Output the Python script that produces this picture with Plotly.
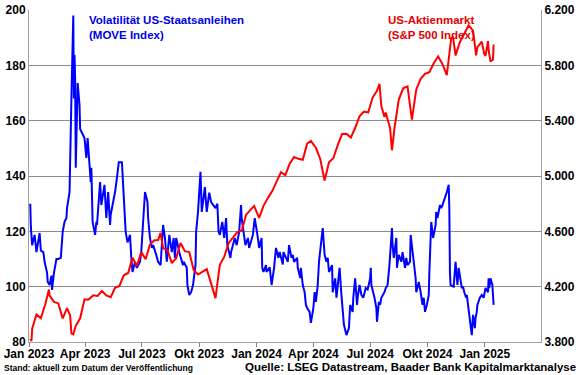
import plotly.graph_objects as go

# ---------------- data ----------------
move_dates = [
    "2023-01-03","2023-01-04","2023-01-06","2023-01-10","2023-01-13","2023-01-18","2023-01-20","2023-01-24",
    "2023-01-26","2023-01-30","2023-01-31","2023-02-03","2023-02-06","2023-02-07","2023-02-10","2023-02-14",
    "2023-02-17","2023-02-21","2023-02-24","2023-02-27","2023-03-02","2023-03-03","2023-03-07","2023-03-09",
    "2023-03-10","2023-03-13","2023-03-14","2023-03-15","2023-03-16","2023-03-17","2023-03-20","2023-03-23",
    "2023-03-24","2023-03-31","2023-04-03","2023-04-05","2023-04-10","2023-04-11","2023-04-13","2023-04-17",
    "2023-04-19","2023-04-20","2023-04-25","2023-04-27","2023-05-02","2023-05-05","2023-05-08","2023-05-11",
    "2023-05-12","2023-05-15","2023-05-19","2023-05-22","2023-05-25","2023-05-30","2023-06-02","2023-06-05",
    "2023-06-08","2023-06-12","2023-06-14","2023-06-16","2023-06-20","2023-06-23","2023-06-28","2023-06-30",
    "2023-07-06","2023-07-10","2023-07-11","2023-07-14","2023-07-17","2023-07-19","2023-07-24","2023-07-27",
    "2023-07-31","2023-08-02","2023-08-04","2023-08-07","2023-08-10","2023-08-14","2023-08-18","2023-08-21",
    "2023-08-23","2023-08-25","2023-08-31","2023-09-05","2023-09-06","2023-09-11","2023-09-12","2023-09-15",
    "2023-09-18","2023-09-21","2023-09-25","2023-09-26","2023-09-29","2023-10-03","2023-10-05","2023-10-10",
    "2023-10-13","2023-10-17","2023-10-20","2023-10-27","2023-10-30","2023-11-01","2023-11-03","2023-11-07",
    "2023-11-10","2023-11-13","2023-11-15","2023-11-20","2023-11-21","2023-11-27","2023-11-30","2023-12-04",
    "2023-12-07","2023-12-08","2023-12-12","2023-12-14","2023-12-18","2023-12-20","2023-12-26","2023-12-29",
    "2024-01-03","2024-01-05","2024-01-09","2024-01-10","2024-01-12","2024-01-16","2024-01-17","2024-01-22",
    "2024-01-25","2024-01-29","2024-02-01","2024-02-05","2024-02-07","2024-02-12","2024-02-13","2024-02-15",
    "2024-02-20","2024-02-22","2024-02-26","2024-02-28","2024-03-01","2024-03-06","2024-03-07","2024-03-11",
    "2024-03-12","2024-03-15","2024-03-18","2024-03-20","2024-03-22","2024-03-26","2024-03-28","2024-04-01",
    "2024-04-03","2024-04-05","2024-04-08","2024-04-10","2024-04-15","2024-04-16","2024-04-19","2024-04-22",
    "2024-04-24","2024-04-26","2024-05-01","2024-05-02","2024-05-06","2024-05-08","2024-05-09","2024-05-13",
    "2024-05-16","2024-05-17","2024-05-20","2024-05-24","2024-05-28","2024-05-30","2024-06-03","2024-06-04",
    "2024-06-07","2024-06-10","2024-06-11","2024-06-14","2024-06-17","2024-06-20","2024-06-24","2024-06-27",
    "2024-07-01","2024-07-02","2024-07-03","2024-07-08","2024-07-11","2024-07-12","2024-07-15","2024-07-17",
    "2024-07-19","2024-07-24","2024-07-26","2024-07-29","2024-08-01","2024-08-05","2024-08-06","2024-08-08",
    "2024-08-12","2024-08-13","2024-08-16","2024-08-20","2024-08-22","2024-08-26","2024-08-28","2024-08-30",
    "2024-09-03","2024-09-04","2024-09-09","2024-09-10","2024-09-12","2024-09-13","2024-09-17","2024-09-20",
    "2024-09-23","2024-09-25","2024-09-27","2024-09-30","2024-10-03","2024-10-04","2024-10-07","2024-10-10",
    "2024-10-14","2024-10-15","2024-10-17","2024-10-21","2024-10-23","2024-10-25","2024-10-29","2024-11-01",
    "2024-11-04","2024-11-05","2024-11-06","2024-11-07","2024-11-12","2024-11-15","2024-11-18","2024-11-20",
    "2024-11-25","2024-11-27","2024-11-29","2024-12-02","2024-12-03","2024-12-05","2024-12-09","2024-12-11",
    "2024-12-13","2024-12-16","2024-12-17","2024-12-19","2024-12-20","2024-12-24","2024-12-27","2024-12-30",
    "2025-01-02","2025-01-06","2025-01-07","2025-01-08","2025-01-10","2025-01-13","2025-01-15",
]
move_values = [
    130.0,121.6,115.0,118.7,112.5,119.4,113.0,112.5,
    109.0,105.0,101.7,100.6,104.0,98.8,105.0,110.0,
    110.0,110.4,119.8,123.4,124.8,128.4,134.2,151.0,
    168.0,198.0,168.0,183.7,175.0,143.0,173.6,165.7,
    157.0,153.7,146.5,153.7,137.8,143.0,123.4,118.7,
    123.4,122.3,137.8,129.5,136.8,124.8,134.2,122.3,
    126.0,129.5,134.2,139.3,145.0,145.0,129.5,119.8,
    116.0,118.7,110.4,105.3,109.0,106.8,109.0,112.5,
    134.2,130.6,124.8,117.6,114.0,115.0,111.5,109.0,
    107.8,117.6,122.3,117.6,109.0,118.7,112.5,117.6,
    110.4,117.6,111.5,107.8,109.0,106.8,100.6,97.0,
    98.0,100.6,107.8,119.8,127.0,141.5,127.0,136.0,
    127.0,134.0,130.6,128.4,130.0,119.8,118.7,123.4,
    117.6,124.8,115.0,110.4,112.5,117.6,115.0,119.8,
    129.5,124.8,118.7,115.0,117.6,114.0,118.7,124.8,
    117.6,114.0,117.6,106.8,105.3,107.8,105.3,107.0,
    100.6,106.8,114.0,110.4,112.5,108.0,112.5,111.5,
    109.0,115.0,110.4,111.5,109.0,110.4,106.8,103.1,
    106.8,100.6,98.0,93.4,92.3,90.9,86.9,92.3,
    98.0,94.5,100.6,109.0,117.6,121.2,111.5,109.0,
    110.4,105.3,107.8,98.0,103.0,96.0,98.0,106.8,
    97.0,93.4,86.2,82.5,85.0,93.4,90.9,96.0,
    103.0,93.4,96.0,100.6,97.0,96.0,99.5,99.0,
    103.0,106.8,100.6,96.0,92.3,87.3,94.5,93.4,
    96.0,98.0,99.5,100.6,107.8,121.2,115.0,110.4,
    117.6,106.8,111.5,109.0,112.5,106.8,110.4,107.8,
    109.0,118.7,107.8,105.3,103.0,98.0,101.7,98.0,
    93.4,96.0,90.9,93.4,97.0,105.3,123.4,117.6,
    122.3,127.0,124.8,129.5,128.4,129.5,132.0,134.2,
    136.8,128.0,105.0,100.6,100.0,109.0,100.6,106.8,
    99.5,100.0,98.0,96.0,97.0,93.4,87.3,82.5,
    89.8,85.0,88.7,90.9,93.4,96.0,97.0,96.0,
    99.5,98.0,103.0,99.5,103.0,100.6,93.4,
]

spx_dates = [
    "2023-01-03","2023-01-05","2023-01-06","2023-01-13","2023-01-20","2023-01-27","2023-02-02","2023-02-03",
    "2023-02-10","2023-02-17","2023-02-24","2023-03-03","2023-03-08","2023-03-10","2023-03-13","2023-03-17",
    "2023-03-24","2023-03-31","2023-04-06","2023-04-14","2023-04-21","2023-04-28","2023-05-05","2023-05-12",
    "2023-05-19","2023-05-26","2023-06-02","2023-06-09","2023-06-16","2023-06-23","2023-06-30","2023-07-07",
    "2023-07-14","2023-07-21","2023-07-27","2023-07-31","2023-08-04","2023-08-11","2023-08-18","2023-08-25",
    "2023-09-01","2023-09-08","2023-09-15","2023-09-22","2023-09-29","2023-10-06","2023-10-13","2023-10-20",
    "2023-10-27","2023-11-03","2023-11-10","2023-11-17","2023-11-24","2023-12-01","2023-12-08","2023-12-15",
    "2023-12-22","2023-12-28","2024-01-05","2024-01-12","2024-01-19","2024-01-26","2024-02-02","2024-02-09",
    "2024-02-16","2024-02-23","2024-03-01","2024-03-08","2024-03-15","2024-03-22","2024-03-28","2024-04-05",
    "2024-04-12","2024-04-19","2024-04-26","2024-05-03","2024-05-10","2024-05-17","2024-05-24","2024-05-31",
    "2024-06-07","2024-06-14","2024-06-21","2024-06-28","2024-07-05","2024-07-12","2024-07-16","2024-07-19",
    "2024-07-24","2024-07-26","2024-08-02","2024-08-05","2024-08-09","2024-08-16","2024-08-23","2024-08-30",
    "2024-09-06","2024-09-13","2024-09-20","2024-09-27","2024-10-04","2024-10-11","2024-10-18","2024-10-25",
    "2024-11-01","2024-11-08","2024-11-11","2024-11-15","2024-11-22","2024-11-29","2024-12-06","2024-12-13",
    "2024-12-18","2024-12-20","2024-12-27","2024-12-31","2025-01-02","2025-01-06","2025-01-07","2025-01-10",
    "2025-01-13","2025-01-14","2025-01-15",
]
spx_values = [
    3824,3808,3895,3999,3972,4071,4179,4136,
    4090,4079,3970,4045,3992,3862,3855,3917,
    3971,4109,4105,4137,4133,4169,4136,4124,
    4192,4205,4282,4299,4410,4348,4450,4399,
    4505,4536,4537,4589,4478,4464,4370,4406,
    4516,4457,4450,4320,4288,4309,4327,4224,
    4117,4358,4415,4514,4559,4595,4604,4719,
    4755,4783,4697,4784,4840,4891,4959,5027,
    5006,5089,5137,5124,5117,5234,5254,5204,
    5123,4967,5100,5128,5223,5303,5305,5278,
    5347,5431,5465,5460,5567,5615,5667,5505,
    5427,5459,5346,5186,5344,5554,5634,5648,
    5408,5626,5703,5738,5751,5815,5865,5808,
    5729,5996,6001,5871,5969,6032,6090,6051,
    5872,5931,5971,5882,5868,5975,5909,5827,
    5836,5842,5950,
]

tick_vals = ["2023-01-01","2023-04-01","2023-07-01","2023-10-01","2024-01-01",
             "2024-04-01","2024-07-01","2024-10-01","2025-01-01"]
tick_text = ["Jan 2023","Apr 2023","Jul 2023","Okt 2023","Jan 2024",
             "Apr 2024","Jul 2024","Okt 2024","Jan 2025"]

FONT = "Liberation Sans, Arial, sans-serif"
BLUE = "#0000ff"
RED = "#ff0000"

fig = go.Figure()
fig.add_trace(go.Scatter(x=spx_dates, y=spx_values, mode="lines", yaxis="y2",
                         line=dict(color=RED, width=2), name="S&P 500"))
fig.add_trace(go.Scatter(x=move_dates, y=move_values, mode="lines",
                         line=dict(color=BLUE, width=2), name="MOVE"))

tickfont = dict(family=FONT, size=12, color="black", weight="bold")

fig.update_layout(
    width=580, height=375,
    margin=dict(l=29, r=39, t=10, b=33, autoexpand=False),
    paper_bgcolor="white", plot_bgcolor="white",
    showlegend=False,
    separators=",.",
    font=dict(family=FONT, size=12, color="black"),
    xaxis=dict(
        type="date", range=["2023-01-01", "2025-04-01"],
        tickvals=tick_vals, ticktext=tick_text, tickfont=tickfont,
        showgrid=False, showline=True, linecolor="#a0a0a0", linewidth=1,
        ticks="outside", ticklen=4, tickcolor="#808080",
        ticklabelstandoff=-3,
        zeroline=False, automargin=False,
    ),
    yaxis=dict(
        range=[80, 200], dtick=20, tick0=80, tickfont=tickfont,
        showgrid=True, gridcolor="#8c8c8c", gridwidth=1,
        showline=True, linecolor="#a0a0a0", linewidth=1,
        ticks="", zeroline=False, automargin=False,
    ),
    yaxis2=dict(
        range=[3800, 6200], dtick=400, tick0=3800, overlaying="y", side="right",
        tickformat=",.0f", tickfont=tickfont,
        showgrid=False, showline=True, linecolor="#a0a0a0", linewidth=1,
        ticks="", zeroline=False, automargin=False,
    ),
)

fig.add_annotation(xref="paper", yref="paper", x=0.113, y=0.995, xanchor="left", yanchor="top",
                   text="Volatilität US-Staatsanleihen<br>(MOVE Index)", showarrow=False, align="left",
                   font=dict(family=FONT, size=11.5, color="#0000e6", weight="bold"))
fig.add_annotation(xref="paper", yref="paper", x=0.697, y=0.995, xanchor="left", yanchor="top",
                   text="US-Aktienmarkt<br>(S&P 500 Index)", showarrow=False, align="left",
                   font=dict(family=FONT, size=11.5, color="#e60000", weight="bold"))
fig.add_annotation(xref="paper", yref="paper", x=-0.053, y=-0.099, xanchor="left", yanchor="bottom",
                   text="Stand: aktuell zum Datum der Veröffentlichung", showarrow=False,
                   font=dict(family=FONT, size=8.5, color="black", weight="bold"))
fig.add_annotation(xref="paper", yref="paper", x=1.072, y=-0.099, xanchor="right", yanchor="bottom",
                   text="Quelle: LSEG Datastream, Baader Bank Kapitalmarktanalyse", showarrow=False,
                   font=dict(family=FONT, size=11.5, color="black", weight="bold"))

fig.write_html("out.html", config={"displayModeBar": False},
               post_script="document.body.style.margin='0';document.body.style.padding='0';")
